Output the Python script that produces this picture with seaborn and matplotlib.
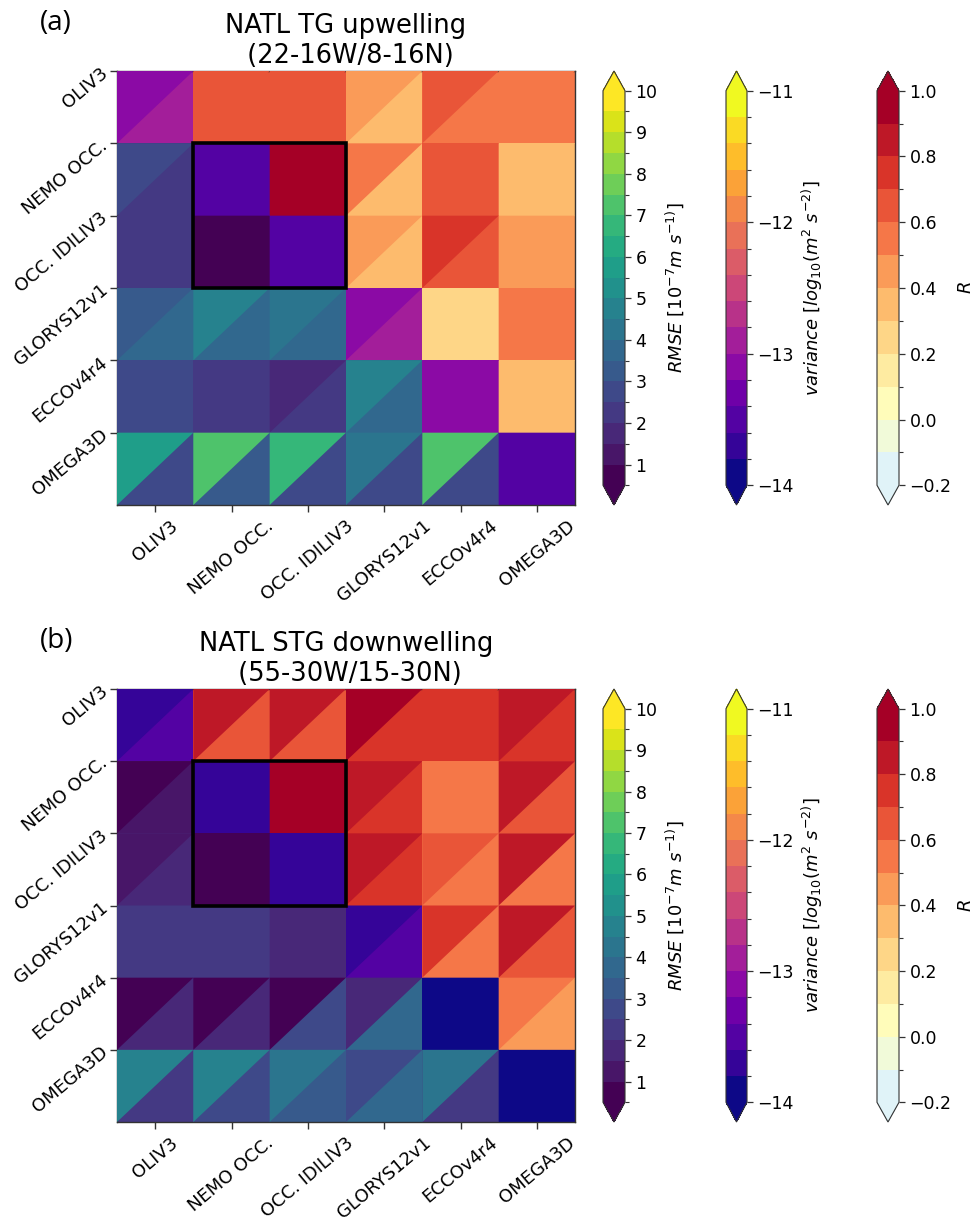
import numpy as np
import pandas as pd
import matplotlib
matplotlib.use("Agg")
import matplotlib.pyplot as plt
import matplotlib.cm as cm
import seaborn as sns
from matplotlib.colors import ListedColormap, BoundaryNorm
from matplotlib.collections import PolyCollection
from matplotlib.patches import Rectangle

# ---------------- data ----------------
models = ["OLIV3", "NEMO OCC.", "OCC. IDILIV3", "GLORYS12v1", "ECCOv4r4", "OMEGA3D"]
boxed = ["NEMO OCC.", "OCC. IDILIV3"]
titles = ["NATL TG upwelling\n (22-16W/8-16N)", "NATL STG downwelling\n (55-30W/15-30N)"]
tags = ["(a)", "(b)"]

# Each cell is split into an upper-left (UL) and lower-right (LR) triangle.
# column > row : correlation R ; row == column : log10 variance ; row > column : RMSE [1e-7 m/s]
a_ul = [[-13.1, 0.65, 0.65, 0.45, 0.65, 0.55],
        [2.75, -13.5, 0.95, 0.55, 0.65, 0.35],
        [2.25, 0.75, -13.5, 0.45, 0.75, 0.45],
        [3.25, 4.75, 4.25, -13.1, 0.25, 0.55],
        [2.75, 2.25, 1.75, 4.75, -13.1, 0.35],
        [5.75, 7.25, 6.75, 4.25, 7.25, -13.5]]
a_lr = [[-12.9, 0.65, 0.65, 0.35, 0.55, 0.55],
        [2.25, -13.5, 0.95, 0.35, 0.65, 0.35],
        [2.25, 0.75, -13.5, 0.35, 0.65, 0.45],
        [3.75, 3.75, 3.75, -12.9, 0.25, 0.55],
        [2.75, 2.25, 2.25, 3.75, -13.1, 0.35],
        [2.75, 3.25, 2.75, 2.75, 2.75, -13.5]]
b_ul = [[-13.7, 0.85, 0.85, 0.95, 0.75, 0.85],
        [0.75, -13.7, 0.95, 0.85, 0.55, 0.85],
        [1.25, 0.75, -13.7, 0.85, 0.65, 0.85],
        [2.25, 2.25, 1.75, -13.7, 0.75, 0.85],
        [0.75, 0.75, 0.75, 1.75, -13.9, 0.55],
        [4.75, 4.75, 4.25, 2.75, 4.25, -13.9]]
b_lr = [[-13.5, 0.65, 0.65, 0.75, 0.75, 0.75],
        [1.25, -13.7, 0.95, 0.75, 0.55, 0.65],
        [1.75, 0.75, -13.7, 0.75, 0.55, 0.55],
        [2.25, 2.25, 1.75, -13.5, 0.55, 0.65],
        [1.75, 1.75, 2.75, 3.75, -13.9, 0.45],
        [2.25, 2.75, 3.25, 3.75, 2.25, -13.9]]

rmse_levels = np.round(np.arange(0.5, 10.01, 0.5), 2)
var_levels = np.round(np.arange(-14.0, -10.99, 0.2), 2)
r_levels = np.round(np.arange(-0.2, 1.01, 0.1), 2)
rmse_ticks = [1, 2, 3, 4, 5, 6, 7, 8, 9, 10]
var_ticks = [-14, -13, -12, -11]
r_ticks = [-0.2, 0.0, 0.2, 0.4, 0.6, 0.8, 1.0]
rmse_label = r"$RMSE$ [$10^{-7}m\ s^{-1)}$]"
var_label = r"$variance$ [$log_{10}(m^2\ s^{-2)}$]"
r_label = r"$R$"

# ---------------- colour scales ----------------
rmse_cmap = ListedColormap(plt.get_cmap("viridis")(np.linspace(0, 1, len(rmse_levels) - 1)))
var_cmap = ListedColormap(plt.get_cmap("plasma")(np.linspace(0, 1, len(var_levels) - 1)))
r_cmap = ListedColormap(plt.get_cmap("RdYlBu_r")(np.linspace(0.4, 1.0, len(r_levels) - 1)))
rmse_norm = BoundaryNorm(rmse_levels, rmse_cmap.N)
var_norm = BoundaryNorm(var_levels, var_cmap.N)
r_norm = BoundaryNorm(r_levels, r_cmap.N)

W, H = 977, 1229
fig = plt.figure(figsize=(W / 100, H / 100), dpi=100)

def fx(px):
    return px / W

def fy(px):
    return 1 - px / H

panel_px = [(71, 505), (689, 1122)]
ax_left, ax_right = 117, 575
cbar_x = [(603, 625), (726, 747), (877, 899)]

n = len(models)
ii, jj = np.indices((n, n))


def draw_panel(ax, ul, lr):
    ul = np.asarray(ul, float)
    lr = np.asarray(lr, float)
    kinds = [(jj > ii, r_cmap, r_norm), (ii == jj, var_cmap, var_norm), (ii > jj, rmse_cmap, rmse_norm)]
    df = pd.DataFrame(lr, index=models, columns=models)
    for sel, cmap, norm in kinds:
        sns.heatmap(df, mask=~sel, cmap=cmap, norm=norm, cbar=False, ax=ax,
                    xticklabels=models, yticklabels=models)
    verts, cols = [], []
    for sel, cmap, norm in kinds:
        for i, j in zip(ii[sel], jj[sel]):
            verts.append([(j, i), (j + 1, i), (j, i + 1)])
            cols.append(cmap(norm(ul[i, j])))
    ax.add_collection(PolyCollection(verts, facecolors=cols, edgecolors="none",
                                     linewidths=0, antialiased=True, zorder=3))
    k0 = models.index(boxed[0])
    k1 = models.index(boxed[-1]) + 1
    ax.add_patch(Rectangle((k0, k0), k1 - k0, k1 - k0, fill=False, ec="black",
                           lw=2.6, zorder=6))
    ax.set_xticks(np.arange(n) + 0.5)
    ax.set_xticklabels(models, rotation=40, ha="center", fontsize=13)
    ax.set_yticks(np.arange(n))
    ax.set_yticklabels(models, rotation=40, ha="right", va="center",
                       rotation_mode="anchor", fontsize=13)
    for s in ax.spines.values():
        s.set_visible(True)
        s.set_color("0.2")
        s.set_linewidth(1.0)
    ax.tick_params(axis="both", length=5, width=1, color="0.2")


def add_cbar(rect, cmap, norm, levels, ticks, label):
    cax = fig.add_axes(rect)
    sm = cm.ScalarMappable(norm=norm, cmap=cmap)
    cb = fig.colorbar(sm, cax=cax, extend="both", ticks=ticks)
    cb.set_ticks(levels, minor=True)
    cb.ax.tick_params(labelsize=12.5, length=4, width=0.9, color="0.2")
    cb.ax.tick_params(which="minor", length=3, width=0.8, color="0.2")
    cb.outline.set_edgecolor("0.2")
    cb.set_label(label, fontsize=13)
    return cb


for p, (ul, lr) in enumerate([(a_ul, a_lr), (b_ul, b_lr)]):
    top, bot = panel_px[p]
    ax = fig.add_axes([fx(ax_left), fy(bot), fx(ax_right - ax_left), (bot - top) / H])
    draw_panel(ax, ul, lr)
    ax.set_title(titles[p], fontsize=18.5)
    fig.text(fx(40), fy(top - 62), tags[p], fontsize=20, va="top", ha="left",
             family=["Open Sans", "DejaVu Sans"])
    specs = [(rmse_cmap, rmse_norm, rmse_levels, rmse_ticks, rmse_label),
             (var_cmap, var_norm, var_levels, var_ticks, var_label),
             (r_cmap, r_norm, r_levels, r_ticks, r_label)]
    for (x0, x1), (cmap, norm, lev, tk, lab) in zip(cbar_x, specs):
        add_cbar([fx(x0), fy(bot), fx(x1 - x0), (bot - top) / H], cmap, norm, lev, tk, lab)

fig.savefig("out.png", dpi=100)
